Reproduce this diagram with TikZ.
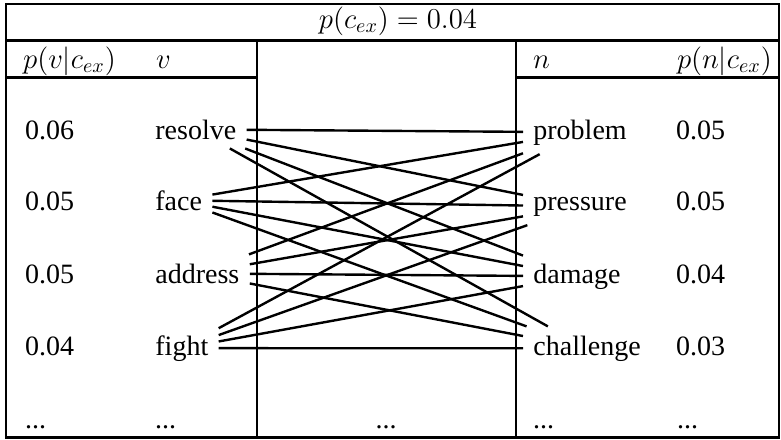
\documentclass[tikz,border=0pt]{standalone}
\usepackage{fontspec}
\newfontfamily\timesfont{Liberation Serif}

\begin{document}
\begin{tikzpicture}[
    x=0.5pt, y=-0.5pt,
    line width=1.2pt,
    every node/.style={font=\fontsize{14}{17}\selectfont\timesfont},
    lbl/.style={inner sep=0pt, anchor=base west},
    word/.style={inner xsep=4.6pt, inner ysep=4pt, anchor=base west},
  ]

  \useasboundingbox (0,0) rectangle (781,439);

  % === Frames ===
  \draw (6,4) rectangle (779,437.5);
  \draw (6,40.5) -- (779,40.5);
  \draw (6,40.5) rectangle (257,437.5);
  \draw (6,77.5) -- (257,77.5);
  \draw (516,40.5) rectangle (779,437.5);
  \draw (516,77.5) -- (779,77.5);

  % === Header ===
  \node[lbl, anchor=base] (pc) at (398,28) {$p(c_{ex}) = 0.04$};

  % === Verbs ===
  \node[lbl] (pvhead) at (22,68) {$p(v|c_{ex})$};
  \node[lbl] (vhead) at (155,68) {$v$};

  \node[lbl] (presolve) at (24,139) {0.06};
  \node[lbl] (pface) at (24,210) {0.05};
  \node[lbl] (paddress) at (24,283) {0.05};
  \node[lbl] (pfight) at (24,355) {0.04};
  \node[lbl] (pvdots) at (24,428) {...};

  \node[word] (resolve) at (145,139) {resolve};
  \node[word] (face) at (145,210) {face};
  \node[word] (address) at (145,283) {address};
  \node[word] (fight) at (145,355) {fight};
  \node[lbl] (vdots) at (154,428) {...};

  % === Middle ===
  \node[lbl, anchor=base] (mdots) at (386,428) {...};

  % === Nouns ===
  \node[lbl] (nhead) at (532,68) {$n$};
  \node[lbl, anchor=base east] (pnhead) at (773,68) {$p(n|c_{ex})$};

  \node[word] (problem) at (523,139) {problem};
  \node[word] (pressure) at (523,210) {pressure};
  \node[word] (damage) at (523,283) {damage};
  \node[word] (challenge) at (523,355) {challenge};
  \node[lbl] (ndots) at (532,428) {...};

  \node[lbl] (pproblem) at (675,139) {0.05};
  \node[lbl] (ppressure) at (675,210) {0.05};
  \node[lbl] (pdamage) at (675,283) {0.04};
  \node[lbl] (pchallenge) at (675,355) {0.03};
  \node[lbl] (pndots) at (676,428) {...};

  % === Pairs ===
  \foreach \v in {resolve,face,address,fight}
    \foreach \n in {problem,pressure,damage,challenge}
      \draw (\v) -- (\n);

\end{tikzpicture}
\end{document}
